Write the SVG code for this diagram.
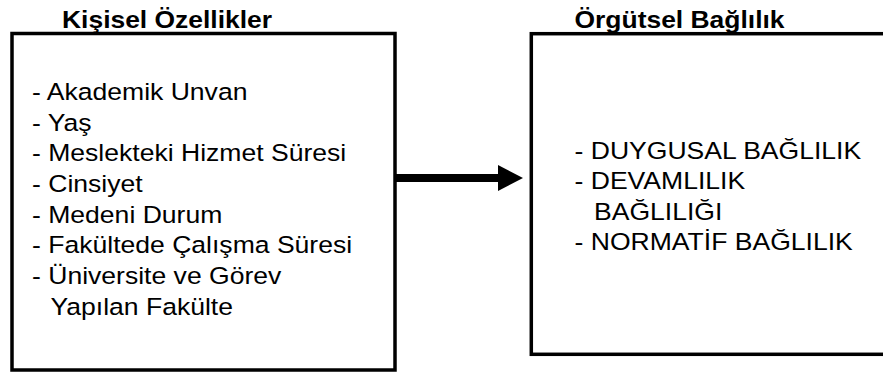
<svg xmlns="http://www.w3.org/2000/svg" width="883" height="374" viewBox="0 0 883 374">
  <defs>
    <style>
      .box { fill: #ffffff; stroke: #000000; stroke-width: 3.5; }
      .title { font-family: "Liberation Sans", Arial, sans-serif; font-weight: bold; font-size: 23.2px; fill: #000000; }
      .item { font-family: "Liberation Sans", Arial, sans-serif; font-size: 23.3px; fill: #000000; }
      .conn { stroke: #000000; stroke-width: 8; fill: none; }
    </style>
    <marker id="arrowhead" markerUnits="userSpaceOnUse" markerWidth="25" markerHeight="26" refX="0" refY="13" orient="auto">
      <path d="M0,0 L25,13 L0,26 Z" fill="#000000"/>
    </marker>
  </defs>
  <rect width="883" height="374" fill="#ffffff"/>

  <g id="node-kisisel">
    <rect class="box" x="12" y="33.5" width="383" height="336.5"/>
    <text class="title" transform="translate(62,28) scale(1.14,1)">Kişisel Özellikler</text>
    <text class="item" transform="translate(32,100) scale(1.14,1)">- Akademik Unvan</text>
    <text class="item" transform="translate(32,130.7) scale(1.14,1)">- Yaş</text>
    <text class="item" transform="translate(32,161.3) scale(1.14,1)">- Meslekteki Hizmet Süresi</text>
    <text class="item" transform="translate(32,192) scale(1.14,1)">- Cinsiyet</text>
    <text class="item" transform="translate(32,222.7) scale(1.14,1)">- Medeni Durum</text>
    <text class="item" transform="translate(32,253.3) scale(1.14,1)">- Fakültede Çalışma Süresi</text>
    <text class="item" transform="translate(32,284) scale(1.14,1)">- Üniversite ve Görev</text>
    <text class="item" transform="translate(50.5,314.7) scale(1.14,1)">Yapılan Fakülte</text>
  </g>

  <g id="node-orgutsel">
    <rect class="box" x="531.3" y="33.7" width="360" height="320.6"/>
    <text class="title" transform="translate(574.5,28) scale(1.14,1)">Örgütsel Bağlılık</text>
    <text class="item" transform="translate(574.5,158.5) scale(1.14,1)">- DUYGUSAL BAĞLILIK</text>
    <text class="item" transform="translate(574.5,189) scale(1.14,1)">- DEVAMLILIK</text>
    <text class="item" transform="translate(594,219.6) scale(1.14,1)">BAĞLILIĞI</text>
    <text class="item" transform="translate(574.5,250.2) scale(1.14,1)">- NORMATİF BAĞLILIK</text>
  </g>

  <g id="connectors">
    <line class="conn" x1="395" y1="178" x2="498" y2="178" marker-end="url(#arrowhead)"/>
  </g>
</svg>
